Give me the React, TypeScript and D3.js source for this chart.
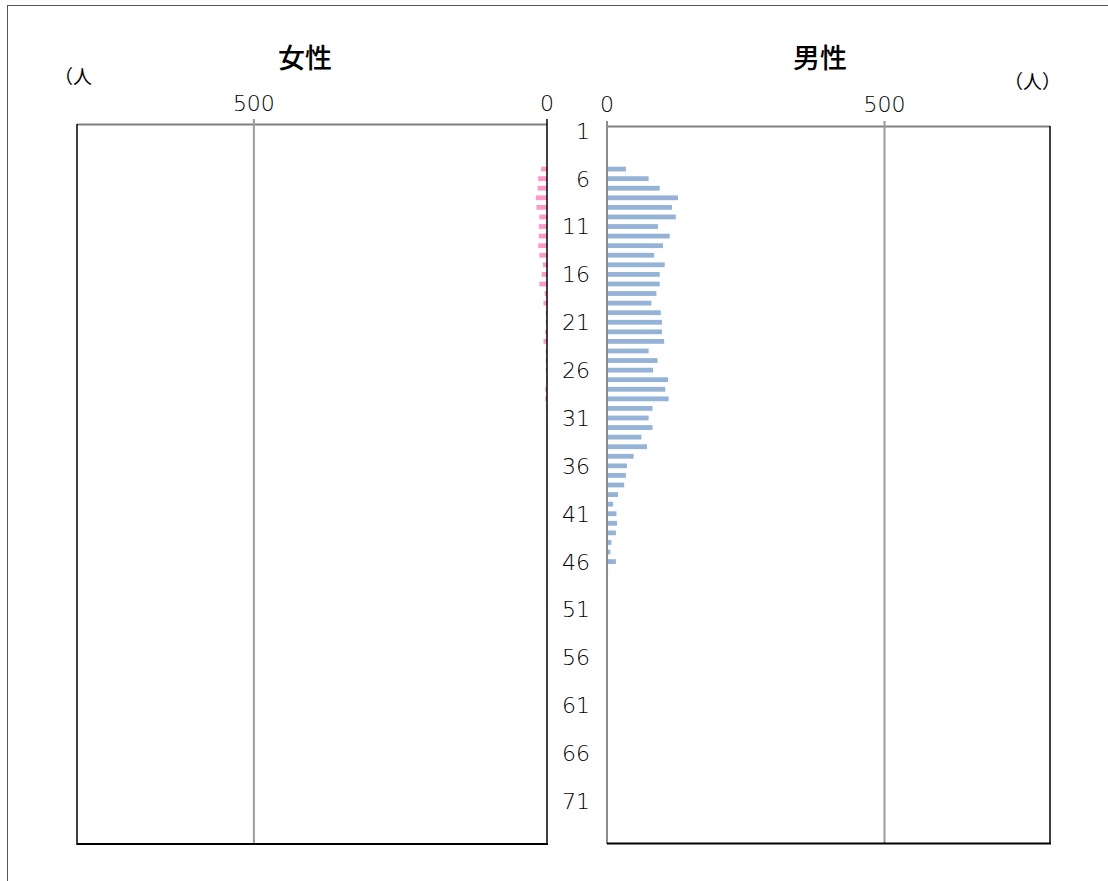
import React from "react";
import * as d3 from "d3";

const ages: number[] = Array.from({ length: 75 }, (_, i) => i + 1);
const ageLabels: number[] = [1, 6, 11, 16, 21, 26, 31, 36, 41, 46, 51, 56, 61, 66, 71];

const male: number[] = [
  0, 0, 0, 0, 34, 75, 95, 128, 117, 124,
  92, 113, 101, 85, 104, 95, 95, 89, 80, 97,
  99, 99, 103, 75, 91, 83, 110, 105, 111, 82,
  75, 82, 62, 72, 48, 36, 34, 31, 20, 11,
  17, 18, 16, 8, 6, 16, 2, 1, 1, 1,
  1, 0, 0, 0, 0, 0, 0, 0, 0, 0,
  0, 0, 0, 0, 0, 0, 0, 0, 0, 0,
  0, 0, 0, 0, 0,
];

const female: number[] = [
  0, 0, 0, 0, 10, 15, 16, 19, 18, 13,
  14, 14, 15, 13, 7, 9, 13, 4, 6, 2,
  2, 3, 6, 2, 2, 2, 1, 3, 3, 1,
  1, 1, 1, 1, 1, 1, 1, 1, 1, 1,
  1, 1, 1, 1, 1, 1, 1, 1, 1, 1,
  0, 0, 0, 0, 0, 0, 0, 0, 0, 0,
  0, 0, 0, 0, 0, 0, 0, 0, 0, 0,
  0, 0, 0, 0, 0,
];

const xTicks: number[] = [0, 500];
const FONT = "'Noto Sans CJK JP', 'Noto Sans', sans-serif";
const NUMFONT = "'DejaVu Sans', sans-serif";

export default function App() {
  const W = 1108;
  const H = 881;
  const top = 126;
  const bottom = 844;
  const lLeft = 77;
  const lRight = 547;
  const rLeft = 607;
  const rRight = 1050;

  const y = d3.scaleBand<number>().domain(ages).range([top, bottom]).paddingInner(0.5).paddingOuter(0.25);
  const xL = d3.scaleLinear().domain([0, 800]).range([lRight, 78]);
  const xR = d3.scaleLinear().domain([0, 800]).range([rLeft, 1051]);
  const rowC = (a: number) => (y(a) as number) + y.bandwidth() / 2;

  return (
    <svg width={W} height={H} style={{ position: "absolute", left: 0, top: 0 }}>
      <rect x={0} y={0} width={W} height={H} fill="#fff" />
      <rect x={7.5} y={5.5} width={1110} height={890} fill="none" stroke="#555" strokeWidth={1} />

      {/* titles */}
      <text x={305} y={68} fontSize={27} fontFamily={FONT} fontWeight={500} textAnchor="middle" fill="#000">女性</text>
      <text x={820} y={68} fontSize={27} fontFamily={FONT} fontWeight={500} textAnchor="middle" fill="#000">男性</text>
      <text x={54} y={84} fontSize={19} fontFamily={FONT} fill="#000">（人</text>
      <text x={1061} y={89} fontSize={19} fontFamily={FONT} textAnchor="end" fill="#000">（人）</text>

      {/* left panel */}
      <line x1={lLeft} x2={lRight} y1={124.5} y2={124.5} stroke="#808080" strokeWidth={2} />
      {xTicks.filter((t) => t > 0).map((t) => (
        <line key={"lg" + t} x1={xL(t)} x2={xL(t)} y1={119} y2={bottom} stroke="#9a9a9a" strokeWidth={2} />
      ))}
      {ages.map((a, i) => (
        <rect key={"f" + a} x={xL(female[i])} y={y(a)} width={xL(0) - xL(female[i])} height={y.bandwidth()} fill="#FF99CC" />
      ))}
      <line x1={lLeft} x2={lLeft} y1={124} y2={bottom + 1} stroke="#000" strokeWidth={1.5} />
      <line x1={lLeft} x2={lRight + 1} y1={bottom} y2={bottom} stroke="#000" strokeWidth={2} />
      <line x1={lRight} x2={lRight} y1={119} y2={bottom + 1} stroke="#000" strokeWidth={1.5} />
      {xTicks.map((t) => (
        <text key={"lt" + t} x={xL(t)} y={111} fontSize={22} fontFamily={NUMFONT} fontWeight={300} textAnchor="middle" fill="#000">{t}</text>
      ))}

      {/* right panel */}
      <line x1={rLeft} x2={rRight} y1={126.5} y2={126.5} stroke="#808080" strokeWidth={2} />
      {xTicks.filter((t) => t > 0).map((t) => (
        <line key={"rg" + t} x1={xR(t)} x2={xR(t)} y1={121} y2={bottom} stroke="#9a9a9a" strokeWidth={2} />
      ))}
      {ages.map((a, i) => (
        <rect key={"m" + a} x={xR(0)} y={y(a)} width={xR(male[i]) - xR(0)} height={y.bandwidth()} fill="#95B3D7" />
      ))}
      <line x1={rLeft} x2={rLeft} y1={121} y2={bottom} stroke="#8c8c8c" strokeWidth={2} />
      <line x1={rRight} x2={rRight} y1={126} y2={bottom} stroke="#000" strokeWidth={1.5} />
      <line x1={rLeft} x2={rRight + 1} y1={bottom - 0.5} y2={bottom - 0.5} stroke="#000" strokeWidth={2} />
      {xTicks.map((t) => (
        <text key={"rt" + t} x={xR(t)} y={112} fontSize={22} fontFamily={NUMFONT} fontWeight={300} textAnchor="middle" fill="#000">{t}</text>
      ))}

      {/* age labels */}
      {ageLabels.map((a) => (
        <text key={"a" + a} x={590} y={rowC(a)} dy="0.36em" fontSize={22} fontFamily={NUMFONT} fontWeight={300} textAnchor="end" fill="#000">{a}</text>
      ))}
    </svg>
  );
}
